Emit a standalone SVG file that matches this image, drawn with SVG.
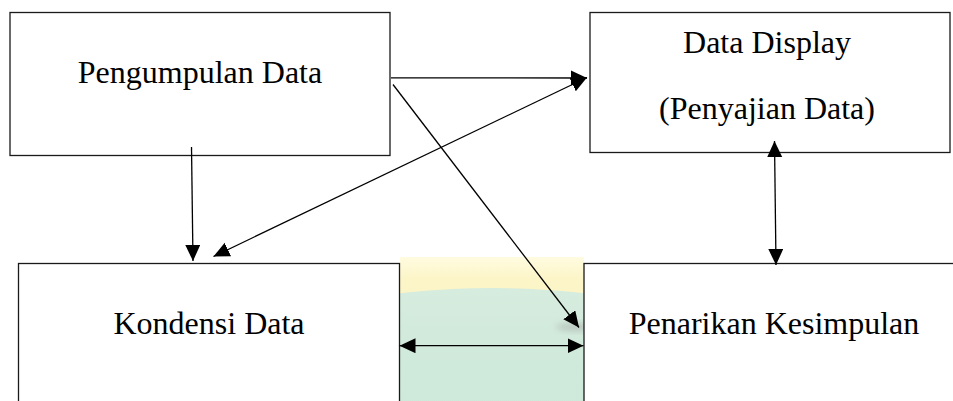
<svg xmlns="http://www.w3.org/2000/svg" width="953" height="401" viewBox="0 0 953 401">
  <style>
    .box { fill: #ffffff; stroke: #1a1a1a; stroke-width: 1.3; }
    .lbl { font-family: "Liberation Serif", "Times New Roman", serif; font-size: 32px; fill: #000; text-anchor: middle; }
    .conn { stroke: #000; stroke-width: 1.3; fill: none; }
  </style>
  <defs>
    <marker id="ah" markerUnits="userSpaceOnUse" markerWidth="17" markerHeight="16" refX="16" refY="7.5" orient="auto-start-reverse" viewBox="0 0 17 16">
      <path d="M0,0 L16,7.5 L0,15 z" fill="#000"/>
    </marker>
    <linearGradient id="wmY" x1="0" y1="0" x2="0" y2="1">
      <stop offset="0" stop-color="#fffbe0"/>
      <stop offset="0.15" stop-color="#fcf5c8"/>
      <stop offset="1" stop-color="#f8efc0"/>
    </linearGradient>
    <linearGradient id="wmG" x1="0" y1="0" x2="0" y2="1">
      <stop offset="0" stop-color="#d6ecde"/>
      <stop offset="0.2" stop-color="#cfe9da"/>
      <stop offset="1" stop-color="#cce8d9"/>
    </linearGradient>
    <clipPath id="wmClip">
      <rect x="400" y="257" width="184" height="144"/>
    </clipPath>
    <filter id="blur" x="-50%" y="-50%" width="200%" height="200%">
      <feGaussianBlur stdDeviation="3"/>
    </filter>
  </defs>

  <rect width="953" height="401" fill="#ffffff"/>

  <g id="watermark" clip-path="url(#wmClip)">
    <rect x="400" y="257" width="184" height="144" fill="url(#wmY)"/>
    <ellipse cx="492" cy="480" rx="400" ry="192" fill="url(#wmG)"/>
    <ellipse cx="578" cy="327" rx="22" ry="4" fill="#9a9a9a" opacity="0.45" filter="url(#blur)"/>
  </g>

  <g id="node-pengumpulan">
    <rect class="box" x="10" y="12.5" width="380" height="143"/>
    <text class="lbl" x="200" y="83">Pengumpulan Data</text>
  </g>

  <g id="node-display">
    <rect class="box" x="590" y="12.5" width="360" height="140"/>
    <text class="lbl" x="767" y="53">Data Display</text>
    <text class="lbl" x="767" y="118.5">(Penyajian Data)</text>
  </g>

  <g id="node-kondensi">
    <rect class="box" x="18.5" y="263.5" width="381" height="160"/>
    <text class="lbl" x="209" y="334">Kondensi Data</text>
  </g>

  <g id="node-penarikan">
    <rect class="box" x="584" y="263.5" width="380" height="160"/>
    <text class="lbl" x="774" y="334">Penarikan Kesimpulan</text>
  </g>

  <g id="connectors">
    <line class="conn" x1="191.5" y1="147" x2="193" y2="261" marker-end="url(#ah)"/>
    <line class="conn" x1="391" y1="77.8" x2="587" y2="78" marker-end="url(#ah)"/>
    <line class="conn" x1="213.5" y1="256.5" x2="587" y2="77.5" marker-start="url(#ah)" marker-end="url(#ah)"/>
    <line class="conn" x1="393" y1="84.5" x2="579" y2="327.5" marker-end="url(#ah)"/>
    <line class="conn" x1="399.5" y1="345.7" x2="583.5" y2="345.7" marker-start="url(#ah)" marker-end="url(#ah)"/>
    <line class="conn" x1="774.5" y1="141" x2="776" y2="265" marker-start="url(#ah)" marker-end="url(#ah)"/>
  </g>
</svg>
